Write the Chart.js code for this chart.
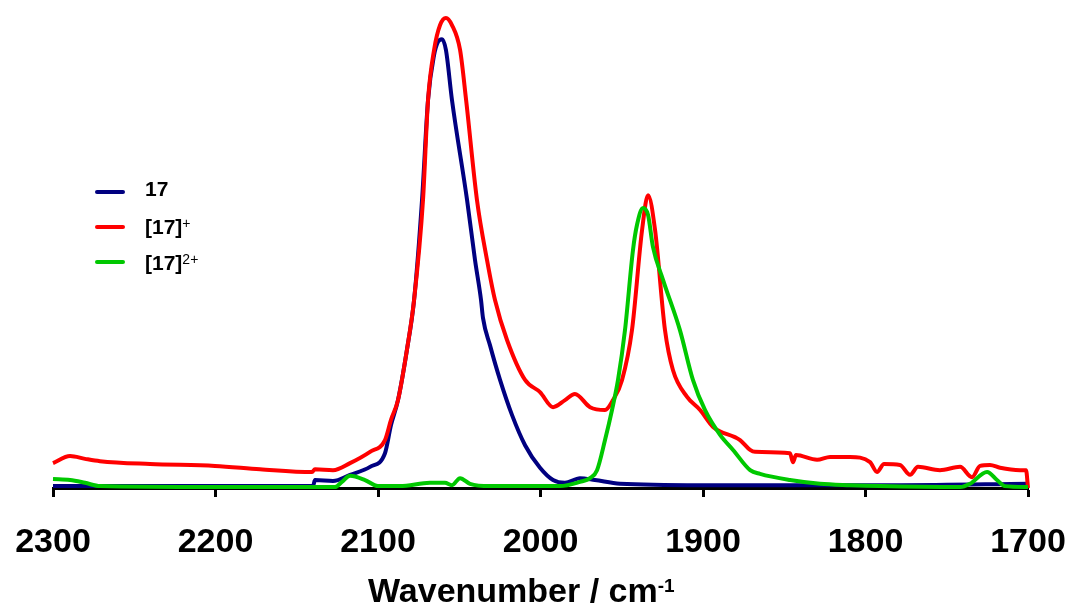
<!DOCTYPE html>
<html>
<head>
<meta charset="utf-8">
<script src="https://cdn.jsdelivr.net/npm/chart.js@4.4.1/dist/chart.umd.min.js"></script>
<style>
  body { margin: 0; background: #fff; }
  #wrap { position: relative; width: 1070px; height: 612px; font-family: "Liberation Sans", Arial, sans-serif; }
  .leg { position: absolute; left: 95px; width: 30px; height: 4px; border-radius: 2px; }
  .lt { position: absolute; left: 145px; font-size: 21px; font-weight: bold; line-height: 21px; white-space: nowrap; }
  .lt sup { font-size: 14px; font-weight: normal; vertical-align: 6px; line-height: 0; }
  #xtitle { position: absolute; left: 368px; top: 573px; font-size: 34px; font-weight: bold; line-height: 34px; white-space: nowrap; }
  #xtitle sup { font-size: 19px; vertical-align: 10px; line-height: 0; }
</style>
</head>
<body>
<div id="wrap">
  <canvas id="c" width="1070" height="612"></canvas>
  <div class="leg" style="top:190px;background:#000080"></div>
  <div class="lt" style="top:178px">17</div>
  <div class="leg" style="top:225px;background:#ff0000"></div>
  <div class="lt" style="top:216px">[17]<sup>+</sup></div>
  <div class="leg" style="top:260px;background:#00c800"></div>
  <div class="lt" style="top:252px">[17]<sup>2+</sup></div>
  <div id="xtitle">Wavenumber / cm<sup>-1</sup></div>
</div>
<script>
// wavenumber (cm-1) and intensity (a.u., peak of [17]+ = 100)
var wn17 = [2300, 2140, 2138.8, 2127.7, 2117.2, 2104.9, 2095.7, 2092, 2087.7, 2082.2, 2077.8, 2072.9, 2069.2, 2065.5, 2063.1, 2060.6, 2058.2, 2054.5, 2045.2, 2040.3, 2036.6, 2035.4, 2031.1, 2024.9, 2017.5, 2009.5, 2000.3, 1992.3, 1985, 1975.7, 1966.5, 1951.1, 1901.8, 1778.8, 1700];
var int17 = [0.4, 0.4, 1.7, 1.5, 2.8, 4.5, 7.4, 13.4, 18.7, 29.4, 40, 61.3, 82.6, 92.1, 94.9, 95.5, 93.2, 82.6, 61.3, 48.5, 40, 36.2, 30.4, 23, 15.5, 9.1, 4.3, 1.7, 1.1, 2.1, 1.7, 0.9, 0.6, 0.6, 0.9];

var wn17p = [2300, 2289.5, 2280.3, 2271.1, 2240.3, 2200.3, 2172.6, 2140.6, 2138.8, 2127.7, 2117.2, 2104.9, 2095.7, 2092, 2087.7, 2082.2, 2077.8, 2072.3, 2069.2, 2065.5, 2061.8, 2058.2, 2054.5, 2049.5, 2045.8, 2039.1, 2032.9, 2028, 2020.6, 2009.5, 2000.3, 1992.3, 1984.9, 1978.8, 1969.5, 1960.3, 1955.4, 1949.8, 1943.7, 1937.5, 1933.8, 1929.5, 1923.4, 1918.5, 1909.8, 1901.8, 1893.8, 1877.2, 1871, 1868, 1846.5, 1844.6, 1842.8, 1829.8, 1821.8, 1809.5, 1797.2, 1792.9, 1788.6, 1778.8, 1772.6, 1767.7, 1754.2, 1741.8, 1734.5, 1729.5, 1723.4, 1717.2, 1704.9, 1701.2, 1700];
var int17p = [5.3, 6.8, 6.2, 5.7, 5.1, 4.7, 4.0, 3.4, 4.0, 3.8, 5.3, 7.7, 10.2, 14.5, 18.7, 29.4, 40, 61.3, 82.6, 93.2, 98.5, 100, 98.5, 93.2, 82.6, 61.3, 48.5, 40, 31.5, 23, 20.4, 17.2, 18.7, 20, 17.2, 16.6, 18.7, 23, 33.6, 54.9, 62.3, 54.9, 33.6, 25.1, 19.4, 16.6, 13, 10.2, 8.1, 7.7, 7.4, 5.5, 7.0, 6.0, 6.6, 6.6, 5.5, 3.4, 5.1, 4.9, 2.8, 4.5, 3.8, 4.5, 2.3, 4.7, 4.9, 4.3, 3.8, 3.8, 0];

var wn17pp = [2300, 2289.5, 2280.3, 2271, 2200, 2126.5, 2122.2, 2117.2, 2108, 2100, 2086.5, 2068, 2058.8, 2054.5, 2049.5, 2043.4, 2031, 1988, 1975.7, 1969.5, 1965.2, 1960.3, 1956, 1952.3, 1948, 1943.1, 1940.6, 1936.9, 1933.8, 1930.8, 1924.6, 1914.2, 1906.2, 1898.8, 1889.5, 1881.5, 1871, 1864.9, 1846.5, 1828, 1809.5, 1791, 1741.8, 1735.7, 1725.2, 1719.1, 1714.2, 1700];
var int17pp = [1.9, 1.7, 1.1, 0.4, 0.2, 0.2, 1.3, 2.6, 1.7, 0.4, 0.4, 1.1, 1.1, 0.6, 2.1, 0.9, 0.4, 0.4, 1.3, 2.1, 3.8, 10.2, 16.6, 23, 33.6, 50.6, 56, 59.6, 58.1, 51.3, 44.3, 33.6, 23, 16.6, 11.3, 8.1, 3.8, 3.0, 1.7, 0.9, 0.6, 0.4, 0.2, 0.9, 3.4, 1.7, 0.4, 0.2];

var xTicks = [2300, 2200, 2100, 2000, 1900, 1800, 1700];

function pts(xs, ys) {
  return xs.map(function (x, i) { return { x: x, y: ys[i] }; });
}

var ctx = document.getElementById("c");
var chart = new Chart(ctx, {
  type: 'line',
  data: {
    datasets: [
      { label: '17', data: pts(wn17, int17), borderColor: '#000080', order: 2 },
      { label: '[17]+', data: pts(wn17p, int17p), borderColor: '#ff0000', order: 1 },
      { label: '[17]2+', data: pts(wn17pp, int17pp), borderColor: '#00c800', order: 0 }
    ]
  },
  options: {
    responsive: false,
    animation: false,
    devicePixelRatio: 1,
    layout: { padding: { left: 53, right: 42, top: 18, bottom: 0 } },
    elements: {
      point: { radius: 0 },
      line: { borderWidth: 4, cubicInterpolationMode: 'monotone', fill: false }
    },
    datasets: { line: { clip: false } },
    plugins: { legend: { display: false }, tooltip: { enabled: false } },
    scales: {
      x: {
        type: 'linear',
        reverse: true,
        min: 1700,
        max: 2300,
        afterBuildTicks: function (scale) {
          scale.ticks = xTicks.map(function (v) { return { value: v }; });
        },
        afterFit: function (scale) {
          scale.height = 124;
          scale.paddingLeft = 0;
          scale.paddingRight = 0;
        },
        border: { display: true, color: '#000', width: 3 },
        grid: { drawOnChartArea: false, drawTicks: true, tickLength: 9, tickWidth: 3, tickColor: '#000' },
        ticks: {
          color: '#000',
          padding: 25,
          maxRotation: 0,
          autoSkip: false,
          callback: function (v) { return String(v); },
          font: { family: 'Liberation Sans', size: 34, weight: 'bold' }
        }
      },
      y: { display: false, min: 0, max: 100 }
    }
  }
});
</script>
</body>
</html>
